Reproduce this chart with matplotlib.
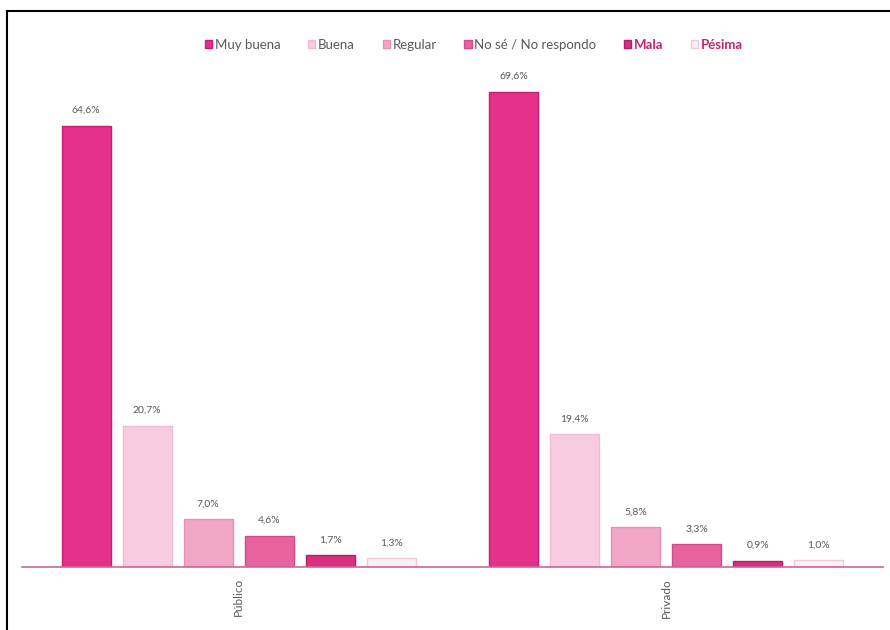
import matplotlib
matplotlib.use("Agg")
import matplotlib.pyplot as plt
from matplotlib.patches import Patch
from matplotlib.lines import Line2D

groups = ["Público", "Privado"]
series = ["Muy buena", "Buena", "Regular", "No sé / No respondo", "Mala", "Pésima"]
publico = [64.6, 20.7, 7.0, 4.6, 1.7, 1.3]
privado = [69.6, 19.4, 5.8, 3.3, 0.9, 1.0]
values = [publico, privado]
colors = ["#E6318A", "#F8CCE0", "#F2A6C6", "#E8629E", "#D8307F", "#FDF0F5"]
edges = ["#C81E72", "#F4B9D2", "#E88FB4", "#D24D88", "#B81E66", "#F0C8DA"]

plt.rcParams['font.family'] = ['Lato', 'DejaVu Sans']

W, H = 890, 630
fig = plt.figure(figsize=(W / 100, H / 100), dpi=100)
ax = fig.add_axes([22 / W, 63 / H, (883 - 22) / W, (567 - 80) / H])

n = len(series)
gap = n + 1
for g, vals in enumerate(values):
    for i, v in enumerate(vals):
        x = g * gap + i
        ax.bar(x, v, width=0.8, color=colors[i], edgecolor=edges[i], linewidth=1.0)
        ax.text(x, v + 1.6, f"{v:.1f}%".replace(".", ","), ha="center", va="bottom",
                fontsize=7.5, color="#595959")

ax.set_xlim(-1.05, 13.05)
ax.set_ylim(0, 71.3)
for s in ["top", "right", "left"]:
    ax.spines[s].set_visible(False)
ax.spines["bottom"].set_color("#C9679A")
ax.spines["bottom"].set_linewidth(1.2)
ax.set_yticks([])
ax.set_xticks([g * gap + (n - 1) / 2 for g in range(len(groups))])
ax.set_xticklabels(groups, rotation=90, fontsize=8.5, color="#595959")
ax.tick_params(axis="x", length=0, pad=8)

handles = [Patch(facecolor=colors[i], edgecolor=edges[i]) for i in range(n)]
leg = fig.legend(handles, series, loc="center", bbox_to_anchor=(474 / W, 1 - 45 / H),
                 ncol=n, frameon=False, fontsize=9.5, handlelength=0.55, handleheight=0.55,
                 handletextpad=0.2, columnspacing=2.1)
for t in leg.get_texts():
    t.set_color("#595959")
for t in leg.get_texts()[4:]:
    t.set_fontweight("bold")
    t.set_color("#C0246E")

fig.add_artist(Line2D([7 / W, 1], [1 - 11 / H, 1 - 11 / H], color="black", linewidth=1.5,
                      transform=fig.transFigure))
fig.add_artist(Line2D([7 / W, 7 / W], [0, 1 - 11 / H], color="black", linewidth=1.5,
                      transform=fig.transFigure))

fig.savefig("out.png", dpi=100)
